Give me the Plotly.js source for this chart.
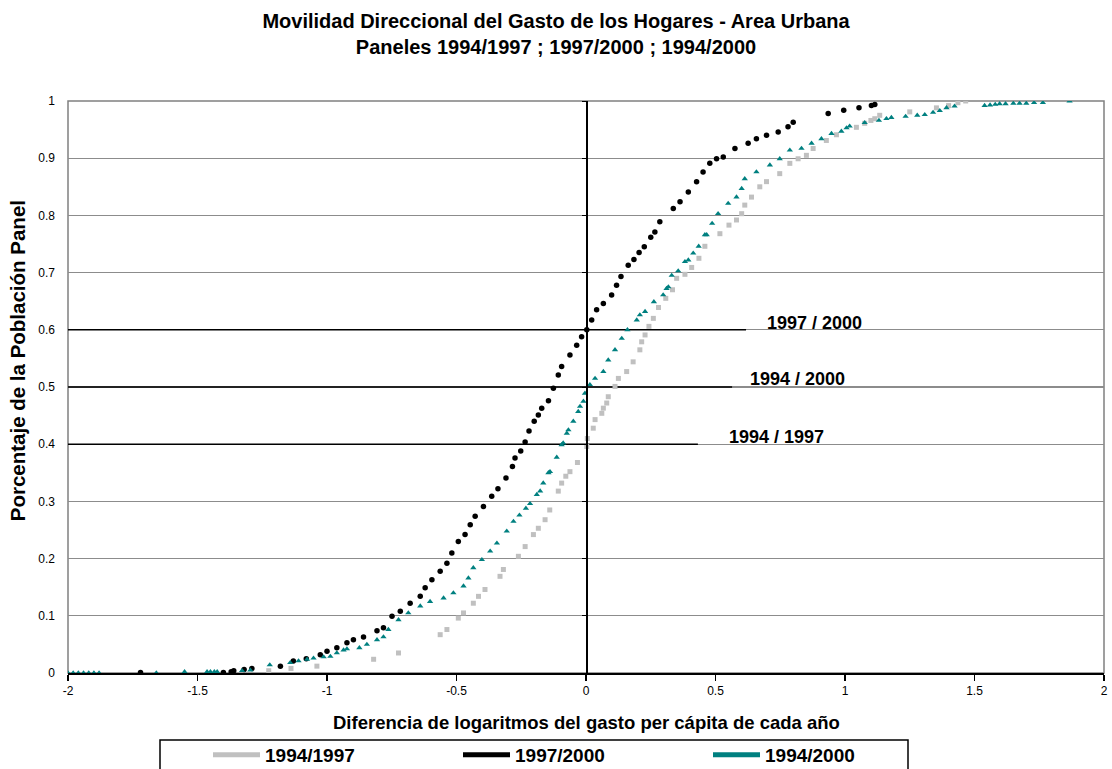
<!DOCTYPE html>
<html>
<head>
<meta charset="utf-8">
<script src="https://cdn.plot.ly/plotly-3.0.1.min.js"></script>
<style>html,body{margin:0;padding:0;background:#fff;}#chart{width:1112px;height:769px;}</style>
</head>
<body>
<div id="chart"></div>
<script>
// ---- Data ----
const seriesNames = ["1994/1997", "1997/2000", "1994/2000"];

const x9497 = [-1.225,-1.139,-1.039,-0.820,-0.724,-0.563,-0.537,-0.493,-0.473,-0.435,-0.415,-0.390,-0.332,-0.319,-0.261,-0.235,-0.203,-0.184,-0.158,-0.140,-0.107,-0.094,-0.078,-0.062,-0.033,0.003,0.005,0.028,0.035,0.061,0.067,0.080,0.086,0.112,0.125,0.157,0.182,0.208,0.215,0.228,0.243,0.260,0.280,0.308,0.334,0.350,0.382,0.408,0.436,0.459,0.517,0.552,0.581,0.601,0.613,0.639,0.671,0.697,0.748,0.787,0.819,0.851,0.877,0.928,0.967,1.044,1.076,1.100,1.115,1.134,1.250,1.353,1.400,1.436,1.466];
const y9497 = [0.004,0.008,0.012,0.024,0.035,0.067,0.076,0.096,0.105,0.122,0.134,0.146,0.169,0.181,0.204,0.221,0.242,0.253,0.268,0.285,0.318,0.332,0.344,0.352,0.368,0.396,0.410,0.428,0.443,0.454,0.463,0.472,0.483,0.501,0.515,0.527,0.544,0.565,0.579,0.591,0.606,0.620,0.639,0.655,0.670,0.690,0.697,0.709,0.725,0.746,0.768,0.783,0.792,0.803,0.818,0.832,0.850,0.859,0.873,0.891,0.899,0.905,0.917,0.931,0.941,0.954,0.961,0.966,0.969,0.975,0.981,0.988,0.992,0.997,1.000];

const x9700 = [-1.72,-1.40,-1.37,-1.36,-1.32,-1.29,-1.18,-1.13,-1.08,-1.026,-1.0,-0.962,-0.923,-0.898,-0.859,-0.807,-0.782,-0.749,-0.717,-0.679,-0.640,-0.621,-0.595,-0.563,-0.537,-0.518,-0.493,-0.467,-0.447,-0.428,-0.396,-0.364,-0.340,-0.309,-0.284,-0.274,-0.252,-0.235,-0.220,-0.200,-0.184,-0.171,-0.145,-0.126,-0.107,-0.094,-0.062,-0.036,-0.017,0.003,0.022,0.041,0.067,0.099,0.118,0.135,0.163,0.185,0.205,0.225,0.250,0.266,0.285,0.337,0.363,0.395,0.427,0.452,0.478,0.504,0.530,0.575,0.626,0.658,0.697,0.742,0.780,0.800,0.935,0.995,1.054,1.102,1.115];
const y9700 = [0.001,0.001,0.002,0.004,0.006,0.008,0.012,0.021,0.025,0.032,0.038,0.044,0.053,0.058,0.063,0.074,0.079,0.099,0.108,0.122,0.134,0.149,0.163,0.178,0.192,0.210,0.230,0.242,0.259,0.274,0.291,0.309,0.322,0.341,0.361,0.376,0.388,0.404,0.423,0.440,0.451,0.463,0.476,0.498,0.521,0.536,0.556,0.573,0.588,0.600,0.617,0.635,0.646,0.661,0.678,0.693,0.713,0.723,0.735,0.745,0.762,0.771,0.789,0.812,0.824,0.841,0.859,0.876,0.891,0.899,0.902,0.917,0.926,0.934,0.940,0.946,0.955,0.963,0.978,0.984,0.988,0.992,0.994];

const x9400 = [-2.0,-1.98,-1.96,-1.94,-1.92,-1.90,-1.88,-1.659,-1.55,-1.463,-1.45,-1.435,-1.424,-1.328,-1.296,-1.221,-1.142,-1.11,-1.077,-1.052,-1.013,-0.987,-0.962,-0.936,-0.923,-0.875,-0.846,-0.807,-0.782,-0.763,-0.724,-0.686,-0.640,-0.602,-0.550,-0.512,-0.473,-0.454,-0.435,-0.402,-0.370,-0.344,-0.306,-0.280,-0.257,-0.232,-0.216,-0.190,-0.177,-0.165,-0.145,-0.139,-0.113,-0.094,-0.088,-0.074,-0.068,-0.049,-0.030,-0.023,-0.010,-0.004,0.015,0.035,0.067,0.086,0.112,0.138,0.160,0.196,0.208,0.228,0.262,0.298,0.311,0.318,0.331,0.356,0.382,0.395,0.414,0.435,0.459,0.466,0.487,0.510,0.549,0.581,0.601,0.613,0.658,0.710,0.748,0.787,0.832,0.871,0.909,0.948,0.986,1.006,1.018,1.076,1.131,1.160,1.179,1.234,1.279,1.308,1.340,1.366,1.392,1.423,1.539,1.56,1.58,1.597,1.62,1.65,1.674,1.70,1.73,1.764,1.867];
const y9400 = [0,0,0,0,0,0,0,0,0.002,0.002,0.002,0.002,0.002,0.004,0.005,0.014,0.018,0.021,0.024,0.026,0.028,0.029,0.035,0.040,0.042,0.044,0.050,0.058,0.063,0.076,0.093,0.105,0.117,0.125,0.131,0.140,0.152,0.166,0.184,0.198,0.213,0.227,0.248,0.265,0.276,0.288,0.296,0.312,0.318,0.332,0.350,0.352,0.377,0.399,0.402,0.419,0.425,0.440,0.457,0.466,0.475,0.489,0.504,0.515,0.527,0.547,0.565,0.585,0.600,0.617,0.626,0.632,0.649,0.661,0.672,0.675,0.695,0.703,0.719,0.722,0.734,0.746,0.766,0.766,0.786,0.803,0.821,0.832,0.847,0.864,0.876,0.888,0.899,0.914,0.917,0.926,0.934,0.943,0.947,0.953,0.956,0.962,0.966,0.969,0.971,0.973,0.975,0.976,0.980,0.983,0.988,0.991,0.992,0.993,0.994,0.995,0.995,0.996,0.996,0.996,0.997,0.997,1.000];

// reference levels (horizontal black lines) and where they end on the x axis
const refLevels = [0.6, 0.5, 0.4];
const refEnds = [0.618, 0.564, 0.432];
const refLabels = ["1997 / 2000", "1994 / 2000", "1994 / 1997"];
const refLabelX = [0.882, 0.818, 0.736];
const refLabelY = [0.612, 0.514, 0.413];

const xTickVals = [-2, -1.5, -1, -0.5, 0, 0.5, 1, 1.5, 2];
const xTickText = ["-2", "-1.5", "-1", "-0.5", "0", "0.5", "1", "1.5", "2"];
const yTickVals = [0, 0.1, 0.2, 0.3, 0.4, 0.5, 0.6, 0.7, 0.8, 0.9, 1];
const yTickText = ["0", "0.1", "0.2", "0.3", "0.4", "0.5", "0.6", "0.7", "0.8", "0.9", "1"];

const colors = ["#C0C0C0", "#000000", "#008080"];
const symbols = ["square", "circle", "triangle-up"];

// ---- Traces ----
const FONT = "Liberation Sans, Arial, Helvetica, sans-serif";
const traces = [];

refLevels.forEach((lv, i) => {
  traces.push({x: [-2, refEnds[i]], y: [lv, lv], mode: "lines", line: {color: "#000", width: 1.5},
    showlegend: false, hoverinfo: "skip"});
});

const seriesX = [x9497, x9700, x9400];
const seriesY = [y9497, y9700, y9400];
const msize = [5, 5.5, 5.5];
seriesX.forEach((xs, i) => {
  traces.push({x: xs, y: seriesY[i], mode: "markers", name: seriesNames[i], showlegend: false,
    marker: {color: colors[i], symbol: symbols[i], size: msize[i], line: {width: 0}}});
});
// legend entries (line style as in the original legend)
seriesNames.forEach((nm, i) => {
  traces.push({x: [null], y: [null], mode: "lines", name: nm, yaxis: "y2",
    line: {color: colors[i], width: 5}, showlegend: true});
});

const annotations = refLabels.map((t, i) => ({
  x: refLabelX[i], y: refLabelY[i], xref: "x", yref: "y", text: t, showarrow: false,
  font: {family: FONT, size: 18, weight: "bold", color: "#000"}, xanchor: "center", yanchor: "middle"
}));
annotations.push({
  text: "Porcentaje de la Población Panel", textangle: -90, showarrow: false,
  xref: "paper", yref: "paper", x: -0.0492, y: 0.545, xanchor: "center", yanchor: "middle",
  font: {family: FONT, size: 20.5, weight: "bold", color: "#000"}
});
annotations.push({
  text: "Diferencia de logaritmos del gasto per cápita de cada año", showarrow: false,
  xref: "paper", yref: "paper", x: 0.5, y: -0.0866, xanchor: "center", yanchor: "middle",
  font: {family: FONT, size: 18.5, weight: "bold", color: "#000"}
});

const layout = {
  width: 1112, height: 769,
  margin: {l: 68, r: 8, t: 101, b: 96},
  paper_bgcolor: "#fff", plot_bgcolor: "#fff",
  font: {family: FONT, color: "#000", size: 12},
  title: {
    text: "Movilidad Direccional del Gasto de los Hogares - Area Urbana<br>Paneles 1994/1997 ; 1997/2000 ; 1994/2000",
    font: {family: FONT, size: 20, weight: "bold", color: "#000"},
    x: 0.5, xanchor: "center", y: 1 - 28 / 769, yanchor: "middle", yref: "container"
  },
  xaxis: {
    range: [-2, 2], tickmode: "array", tickvals: xTickVals, ticktext: xTickText,
    showgrid: false, zeroline: false, showline: true, linecolor: "#000", linewidth: 1.5,
    ticks: "outside", ticklen: 6, tickcolor: "#000", tickwidth: 1.5,
    tickfont: {family: FONT, size: 12, color: "#000"}, fixedrange: true
  },
  yaxis: {
    range: [0, 1], tickmode: "array", tickvals: yTickVals, ticktext: yTickText,
    showgrid: true, gridcolor: "#8c8c8c", gridwidth: 1.2, zeroline: false, showline: false,
    ticks: "", ticklabelstandoff: 12,
    tickfont: {family: FONT, size: 12, color: "#000"}, fixedrange: true
  },
  yaxis2: {
    range: [0, 1], overlaying: "y", anchor: "free", position: 0.5, side: "left",
    tickmode: "array", tickvals: yTickVals, showticklabels: false, showgrid: false, zeroline: false,
    showline: true, linecolor: "#000", linewidth: 1.5, ticks: "outside", ticklen: 4, tickcolor: "#000", fixedrange: true
  },
  shapes: [
    {type: "rect", xref: "paper", yref: "paper", x0: 0, x1: 1, y0: 0, y1: 1,
      line: {color: "#808080", width: 1.5}, layer: "below"},
    // legend frame (runs off the bottom of the picture as in the original)
    {type: "rect", xref: "paper", yref: "paper", x0: (160 - 68) / 1036, x1: (908 - 68) / 1036,
      y0: (673 - 740) / 572, y1: (673 - 790) / 572, line: {color: "#000", width: 1.5}, layer: "below"}
  ],
  legend: {
    orientation: "h", xref: "container", yref: "container",
    x: 208 / 1112, y: (769 - 755) / 769, xanchor: "left", yanchor: "middle",
    borderwidth: 0, bgcolor: "rgba(0,0,0,0)",
    font: {family: FONT, size: 19, weight: "bold", color: "#000"},
    itemwidth: 47, entrywidth: 188, entrywidthmode: "pixels", tracegroupgap: 0
  },
  annotations: annotations,
  showlegend: true, hovermode: false
};

Plotly.newPlot("chart", traces, layout, {displayModeBar: false, staticPlot: true});
</script>
</body>
</html>
